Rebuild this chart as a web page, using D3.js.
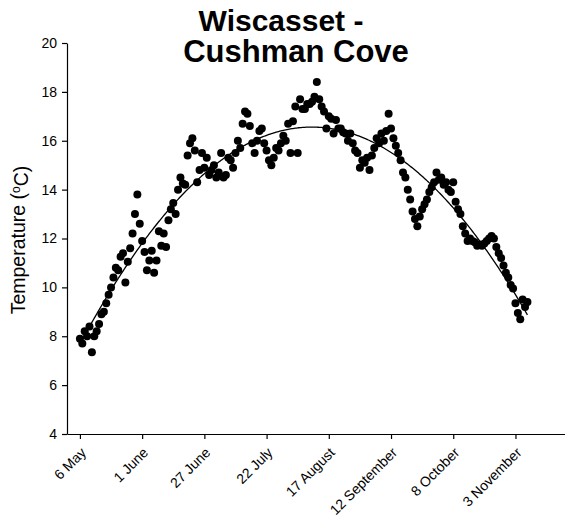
<!DOCTYPE html>
<html>
<head>
<meta charset="utf-8">
<script src="https://cdn.jsdelivr.net/npm/d3@7"></script>
<style>
  html, body { margin: 0; padding: 0; background: #fff; }
  svg { display: block; }
  text { font-family: "Liberation Sans", Arial, sans-serif; fill: #000; }
</style>
</head>
<body>
<div id="chart"></div>
<script>
// Daily water temperature (°C), day 0 = 6 May
const temperature = [
  7.9, 7.7, 8.2, 8.0, 8.4, 7.35, 8.0, 8.2, 8.5, 8.9,
  9.0, 9.35, 9.7, 10.0, 10.4, 10.8, 10.7, 11.25, 11.4, 10.2,
  11.05, 11.6, 12.2, 13.0, 13.8, 12.6, 11.9, 11.45, 10.7, 11.1,
  11.5, 10.6, 11.1, 12.3, 11.7, 12.2, 11.65, 12.75, 13.2, 13.45,
  13.0, 14.0, 14.5, 14.25, 14.2, 15.4, 15.9, 16.1, 15.6, 14.3,
  14.8, 15.5, 14.9, 15.3, 14.6, 14.8, 15.0, 14.5, 14.7, 15.5,
  14.5, 14.6, 15.3, 15.2, 14.9, 15.5, 16.0, 15.7, 16.7, 17.2,
  17.1, 16.6, 15.9, 15.5, 16.0, 16.4, 16.5, 15.9, 15.6, 15.2,
  15.0, 15.3, 15.7, 15.6, 15.9, 16.2, 16.0, 16.7, 15.5, 16.8,
  17.4, 15.5, 17.7, 17.3, 17.3, 17.5, 17.5, 17.6, 17.8, 18.4,
  17.7, 17.4, 17.2, 16.5, 17.0, 16.9, 16.3, 16.85, 16.5, 16.5,
  16.35, 16.3, 16.0, 16.3, 15.9, 15.6, 15.5, 14.9, 15.2, 15.1,
  15.3, 14.8, 15.4, 15.7, 16.1, 15.9, 16.3, 16.0, 16.4, 17.1,
  16.5, 16.1, 15.8, 15.5, 15.2, 14.7, 14.5, 14.0, 13.6, 13.1,
  12.8, 12.5, 12.9, 13.2, 13.4, 13.6, 13.9, 14.1, 14.3, 14.7,
  14.4, 14.5, 14.2, 14.3, 14.0, 13.9, 14.3, 13.5, 13.2, 13.0,
  12.5, 12.2, 11.9, 12.0, 11.9, 11.85, 11.7, 11.75, 11.7, 11.8,
  11.9, 12.0, 12.1, 12.0, 11.65, 11.4, 11.2, 10.9, 10.6, 10.4,
  10.1, 9.95, 9.35, 8.95, 8.7, 9.5, 9.2, 9.4
];
const days = temperature.map((_, i) => i);

// Axis ticks: day offsets and their calendar labels
const tickDays = [0, 26, 52, 78, 104, 130, 156, 182];
const tickLabels = ["6 May", "1 June", "27 June", "22 July", "17 August",
                    "12 September", "8 October", "3 November"];
const yTicks = [4, 6, 8, 10, 12, 14, 16, 18, 20];

const titleLines = ["Wiscasset - ", "Cushman Cove"];

const W = 565, H = 523;
const svg = d3.select("#chart").append("svg")
  .attr("width", W).attr("height", H);

svg.append("rect").attr("width", W).attr("height", H).attr("fill", "#fff");

const x = d3.scaleLinear().domain([-5.4, 202.7]).range([67, 565]);
const y = d3.scaleLinear().domain([4, 20]).range([434, 43]);

// Title
svg.append("text")
  .attr("x", 281).attr("y", 31)
  .attr("text-anchor", "middle")
  .style("font-size", "30px").style("font-weight", "bold")
  .text(titleLines[0]);
svg.append("text")
  .attr("x", 296).attr("y", 62)
  .attr("text-anchor", "middle")
  .style("font-size", "31px").style("font-weight", "bold")
  .text(titleLines[1]);

// Axes
const xAxis = d3.axisBottom(x)
  .tickValues(tickDays)
  .tickFormat((d, i) => tickLabels[i])
  .tickSize(5).tickSizeOuter(0);
const gx = svg.append("g").attr("transform", `translate(0,${y(4)})`).call(xAxis);
gx.select(".domain").attr("stroke", "#000").attr("stroke-width", 1.2);
gx.selectAll(".tick line").attr("stroke", "#000").attr("stroke-width", 1.2);
gx.selectAll(".tick text")
  .attr("x", 0).attr("y", 0).attr("dy", "0.35em")
  .attr("text-anchor", "end")
  .attr("transform", "translate(3,16) rotate(-45)")
  .style("font-size", "14px")
  .style("font-family", "'Liberation Sans', Arial, sans-serif");

const yAxis = d3.axisLeft(y).tickValues(yTicks).tickSize(5).tickSizeOuter(0).tickPadding(5);
const gy = svg.append("g").attr("transform", `translate(${x.range()[0]},0)`).call(yAxis);
gy.select(".domain").attr("stroke", "#000").attr("stroke-width", 1.2);
gy.selectAll(".tick line").attr("stroke", "#000").attr("stroke-width", 1.2);
gy.selectAll(".tick text")
  .style("font-size", "14px")
  .style("font-family", "'Liberation Sans', Arial, sans-serif");

// Y axis title with superscript degree mark
const yTitle = svg.append("text")
  .attr("transform", `translate(25,240) rotate(-90)`)
  .attr("text-anchor", "middle")
  .style("font-size", "19.5px");
yTitle.append("tspan").text("Temperature (");
yTitle.append("tspan").attr("dy", "-0.45em").style("font-size", "12px").text("o");
yTitle.append("tspan").attr("dy", "0.45em").text("C)");

// Data points
svg.append("g").selectAll("circle")
  .data(days)
  .join("circle")
  .attr("cx", d => x(d))
  .attr("cy", d => y(temperature[d]))
  .attr("r", 4)
  .attr("fill", "#000");

// Quadratic least-squares trend through the daily values
function polyFit(xs, ys, deg) {
  const n = deg + 1;
  const xmax = d3.max(xs);
  const A = Array.from({length: n}, () => new Array(n + 1).fill(0));
  xs.forEach((xv, k) => {
    const t = xv / xmax;
    const pw = Array.from({length: 2 * n}, (_, p) => Math.pow(t, p));
    for (let i = 0; i < n; i++) {
      for (let j = 0; j < n; j++) A[i][j] += pw[i + j];
      A[i][n] += pw[i] * ys[k];
    }
  });
  for (let c = 0; c < n; c++) {
    let piv = c;
    for (let r = c + 1; r < n; r++) if (Math.abs(A[r][c]) > Math.abs(A[piv][c])) piv = r;
    [A[c], A[piv]] = [A[piv], A[c]];
    for (let r = 0; r < n; r++) {
      if (r === c) continue;
      const f = A[r][c] / A[c][c];
      for (let k = c; k <= n; k++) A[r][k] -= f * A[c][k];
    }
  }
  const coef = A.map((row, i) => row[n] / row[i]);
  return xv => coef.reduce((s, cf, p) => s + cf * Math.pow(xv / xmax, p), 0);
}
const trend = polyFit(days, temperature, 2);
const trendDays = d3.range(0, days.length - 1 + 0.01, 0.5);

svg.append("path")
  .datum(trendDays)
  .attr("fill", "none")
  .attr("stroke", "#000")
  .attr("stroke-width", 1.3)
  .attr("d", d3.line().x(d => x(d)).y(d => y(trend(d))));
</script>
</body>
</html>
